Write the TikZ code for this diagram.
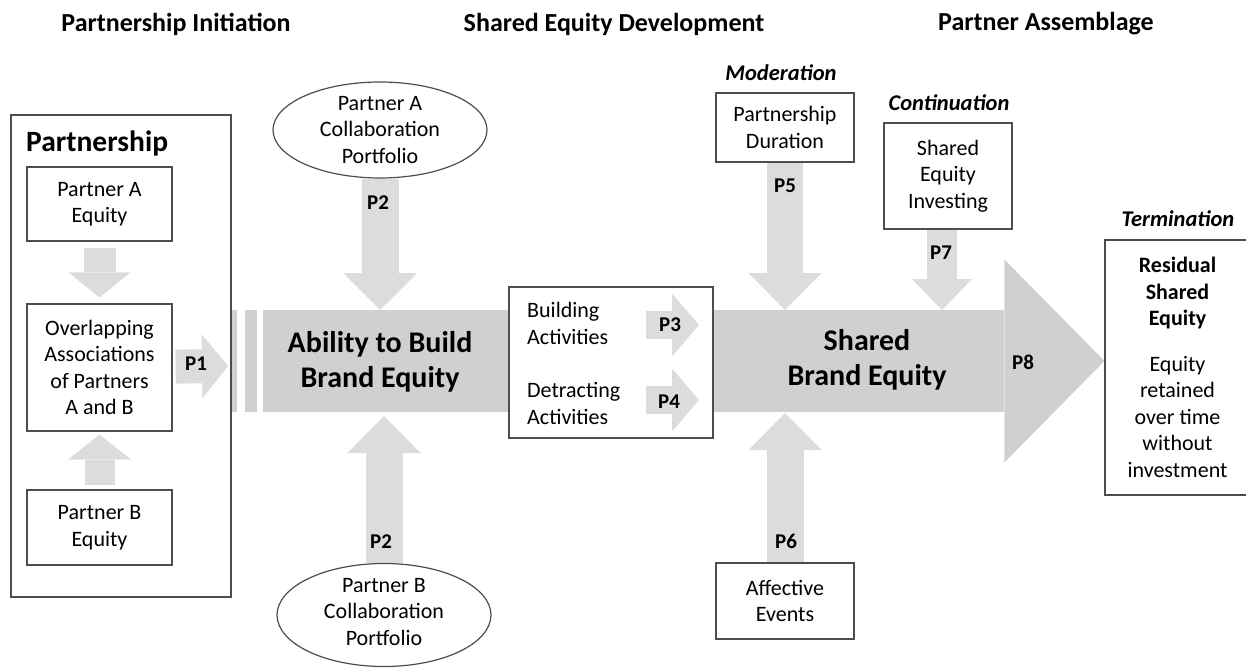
\documentclass[tikz,border=0pt]{standalone}
\usepackage{fontspec}
\setmainfont{Carlito}
\usepackage{tikz}
\usetikzlibrary{arrows.meta,shapes,positioning,backgrounds}

\definecolor{bandgray}{HTML}{D0D0D0}
\definecolor{flowgray}{HTML}{DCDCDC}
\definecolor{framegray}{HTML}{4D4D4D}

\begin{document}
\begin{tikzpicture}
        [
            x=1pt, y=-1pt,
            construct/.style={rectangle, draw=framegray, line width=1.2pt, fill=white, align=center, inner sep=0pt, font=\fontsize{22}{26.5}\selectfont},
            portfolio/.style={ellipse, draw=framegray, line width=1.2pt, fill=white, inner sep=0pt},
            txt/.style={align=center, inner sep=0pt, font=\fontsize{22}{26.5}\selectfont},
            core/.style={align=center, inner sep=0pt, font=\bfseries\fontsize{30}{35}\selectfont},
            stage/.style={inner sep=0pt, font=\bfseries\fontsize{26}{30}\selectfont},
            phase/.style={inner sep=0pt, font=\bfseries\itshape\fontsize{22.5}{26}\selectfont},
            prop/.style={inner sep=0pt, font=\bfseries\fontsize{21}{25}\selectfont},
            flow/.style n args={3}{draw=flowgray, line width=#1, -{Triangle[width=#2, length=#3, line width=0pt]}},
            band/.style={draw=bandgray, line width=102pt, -{Triangle[width=203pt, length=100pt, line width=0pt]}},
        ]
            \useasboundingbox (0,0) rectangle (1246,668);

            % stages
            \node[stage] (init) at (176,24) {Partnership Initiation};
            \node[stage] (develop) at (614,24) {Shared Equity Development};
            \node[stage] (assemble) at (1046,24) {Partner Assemblage};

            % partnership
            \node[construct, minimum width=220pt, minimum height=482pt] (partnership) at (121,356) {};
            \node[anchor=west, inner sep=0pt, font=\bfseries\fontsize{29.5}{34}\selectfont] (ptitle) at (26,143) {Partnership};
            \node[construct, minimum width=145pt, minimum height=74pt] (pa) at (99.5,204) {Partner A\\Equity};
            \node[construct, minimum width=145pt, minimum height=127pt] (ov) at (99.5,367.5) {Overlapping\\Associations\\of Partners\\A and B};
            \node[construct, minimum width=145pt, minimum height=75pt] (pb) at (99.5,527.5) {Partner B\\Equity};

            \coordinate (tail) at (230,366);
            \draw[flow={32pt}{62pt}{25pt}, shorten <=6pt, shorten >=6pt] (pa) -- (ov);
            \draw[flow={30pt}{63pt}{25pt}, shorten <=4pt, shorten >=3pt] (pb) -- (ov);
            \draw[flow={34pt}{64pt}{26pt}, shorten <=3pt, shorten >=2pt] (ov) -- (tail);

            % portfolios
            \node[portfolio, minimum width=214pt, minimum height=96pt] (ella) at (380,130) {};
            \node[txt] at (ella) {Partner A\\Collaboration\\Portfolio};
            \node[portfolio, minimum width=214pt, minimum height=103pt] (ellb) at (384,615) {};
            \node[txt] at ([yshift=3pt]ellb) {Partner B\\Collaboration\\Portfolio};

            % activities
            \node[construct, minimum width=204pt, minimum height=151pt] (mid) at (611,362.5) {};
            \node[txt, anchor=west, align=left] (build) at (527,323.5) {Building\\Activities};
            \node[txt, anchor=west, align=left] (detract) at (527,403.5) {Detracting\\Activities};

            % moderators
            \node[phase] (moder) at (781,73) {Moderation};
            \node[construct, minimum width=138pt, minimum height=69pt] (dur) at (785,127.5) {Partnership\\Duration};
            \node[construct, minimum width=138pt, minimum height=76pt] (aff) at (785,601) {Affective\\Events};
            \node[phase] (contin) at (949,103) {Continuation};
            \node[construct, minimum width=128pt, minimum height=106pt] (sei) at (948,176) {Shared\\Equity\\Investing};

            % termination
            \node[phase] (termin) at (1178,219) {Termination};
            \node[construct, minimum width=145pt, minimum height=255pt] (residual) at (1177.5,367.5)
                {\textbf{Residual}\\\textbf{Shared}\\\textbf{Equity}\\[19pt]Equity\\retained\\over time\\without\\investment};

            \coordinate (bandstart) at (263,361);
            \coordinate (bandtop) at (263,310);
            \coordinate (bandbot) at (263,412);
            \coordinate (b3) at (646,325);
            \coordinate (b3e) at (699,325);
            \coordinate (b4) at (646,400);
            \coordinate (b4e) at (699,400);

            \begin{scope}[on background layer]
                \fill[bandgray] (230,310) rectangle (237,412);
                \fill[bandgray] (245,310) rectangle (257,412);
                \draw[band] (bandstart) -- (bandstart -| residual.west);

                \draw[flow={37pt}{74pt}{37pt}] (ella) -- (ella |- bandtop);
                \draw[flow={37pt}{73pt}{37pt}, shorten >=4pt] (ellb) -- (ellb |- bandbot);
                \draw[flow={36pt}{73pt}{37pt}] (dur) -- (dur |- bandtop);
                \draw[flow={37pt}{73pt}{37pt}, shorten >=1pt] (aff) -- (aff |- bandbot);
                \draw[flow={30pt}{60pt}{31pt}] ([xshift=-6pt]sei.south) -- ([xshift=-6pt]sei.south |- bandtop);
            \end{scope}

            \draw[flow={28pt}{63pt}{27pt}] (b3) -- (b3e);
            \draw[flow={28pt}{63pt}{27pt}] (b4) -- (b4e);

            \node[core] (ability) at (380,362) {Ability to Build\\Brand Equity};
            \node[core] (shared) at (867,360) {Shared\\Brand Equity};

            % propositions
            \node[prop] (p1) at (196,364) {P1};
            \node[prop] (p2a) at (378,203) {P2};
            \node[prop] (p2b) at (381,542) {P2};
            \node[prop] (p3) at (670,325) {P3};
            \node[prop] (p4) at (669,402) {P4};
            \node[prop] (p5) at (785,186) {P5};
            \node[prop] (p6) at (786,541) {P6};
            \node[prop] (p7) at (941,253) {P7};
            \node[prop] (p8) at (1023,362) {P8};
        \end{tikzpicture}
\end{document}
